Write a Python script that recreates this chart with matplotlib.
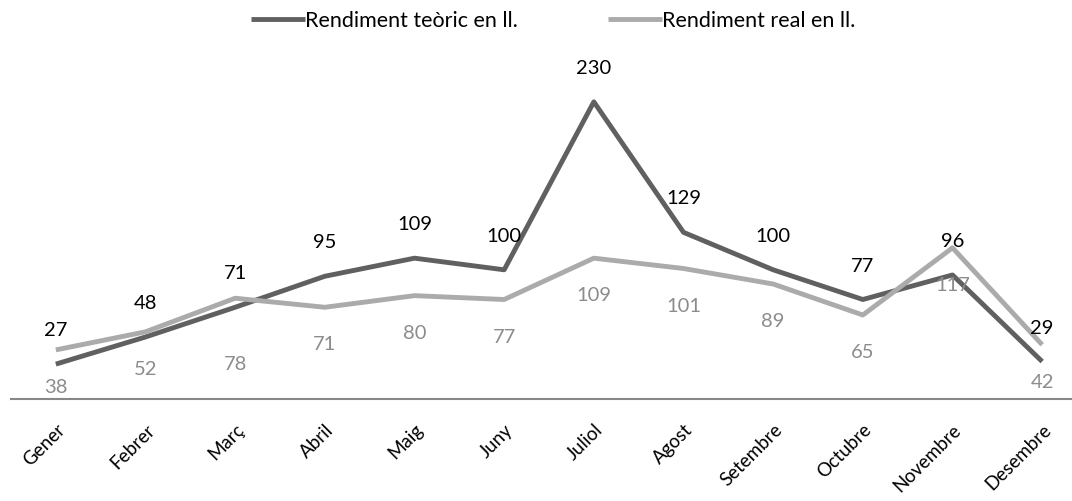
import matplotlib
matplotlib.use("Agg")
import matplotlib.pyplot as plt
import numpy as np

plt.rcParams['font.family'] = ['Lato', 'DejaVu Sans']

# Data
months = ["Gener", "Febrer", "Març", "Abril", "Maig", "Juny", "Juliol",
          "Agost", "Setembre", "Octubre", "Novembre", "Desembre"]
teoric = [27, 48, 71, 95, 109, 100, 230, 129, 100, 77, 96, 29]
real = [38, 52, 78, 71, 80, 77, 109, 101, 89, 65, 117, 42]

dark = "#606060"
light = "#ababab"

fig = plt.figure(figsize=(10.72, 5.01), dpi=100)
ax = fig.add_axes([11 / 1072, 102 / 501, 1076 / 1072, 323 / 501])

x = np.arange(len(months))
ax.plot(x, teoric, color=dark, lw=3.5, label="Rendiment teòric en ll.", solid_capstyle="butt")
ax.plot(x, real, color=light, lw=3.5, label="Rendiment real en ll.", solid_capstyle="butt")

ax.set_xlim(-0.5, len(months) - 0.5)
ax.set_ylim(0, 250)

# data labels
for i, v in enumerate(teoric):
    ax.annotate(str(v), (i, v), xytext=(0, 24), textcoords="offset points",
                ha="center", va="center", fontsize=14.5, color="black")
for i, v in enumerate(real):
    off = -48 if months[i] == "Març" else -27
    ax.annotate(str(v), (i, v), xytext=(0, off), textcoords="offset points",
                ha="center", va="center", fontsize=14.5, color="#8c8c8c")

for s in ["top", "right", "left"]:
    ax.spines[s].set_visible(False)
ax.spines["bottom"].set_color("#878787")
ax.spines["bottom"].set_linewidth(1.5)
ax.set_yticks([])
ax.set_xticks(x)
ax.set_xticklabels(months, rotation=45, ha="right", va="top",
                   rotation_mode="anchor", fontsize=13.5)
ax.tick_params(axis="x", length=0, pad=16)

fig.legend(loc="center", bbox_to_anchor=(553 / 1072, 1 - 21 / 501), ncol=2,
           frameon=False, fontsize=15.5, handlelength=2.5, handletextpad=0.0,
           columnspacing=4.2, borderaxespad=0)

fig.savefig("out.png", dpi=100)
